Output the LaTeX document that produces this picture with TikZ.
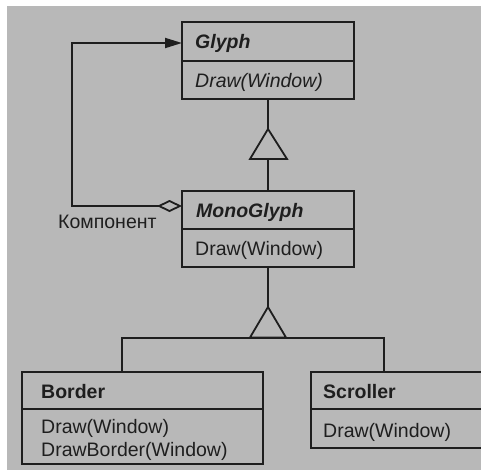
\documentclass[tikz,border=0pt]{standalone}
\usepackage{fontspec}
\setmainfont{Liberation Sans}
\usetikzlibrary{arrows.meta}
\definecolor{bg}{RGB}{184,184,184}
\definecolor{ink}{RGB}{30,30,30}
\begin{document}
\begin{tikzpicture}[x=1pt,y=-1pt,
  box/.style={draw=ink, line width=1.8pt, rectangle, inner sep=0pt},
  lbl/.style={anchor=base west, inner sep=0pt, text=ink, font=\fontsize{19.5}{22}\selectfont},
  ttl/.style={lbl, font=\fontsize{19.5}{22}\selectfont\bfseries},
  conn/.style={draw=ink, line width=1.8pt},
  tri/.style={draw=ink, line width=1.8pt, line join=miter}]
\useasboundingbox (0,0) rectangle (481,472);
\fill[white] (0,0) rectangle (481,472);
\fill[bg] (7,6) rectangle (481,470);
% boxes
\node[box, minimum width=172pt, minimum height=77pt] (glyph) at (268,60.5) {};
\node[box, minimum width=172pt, minimum height=76pt] (mono) at (268,229) {};
\node[box, minimum width=241pt, minimum height=92pt] (border) at (142.5,418) {};
\node[box, minimum width=174pt, minimum height=76pt] (scroller) at (398,410) {};
% dividers
\draw[conn] (182,61) -- (354,61);
\draw[conn] (182,229) -- (354,229);
\draw[conn] (22,409) -- (263,409);
\draw[conn] (311,409) -- (485,409);
% texts
\node[lbl, font=\fontsize{19.5}{22}\selectfont\bfseries\itshape] (tglyph) at (195,48.5) {Glyph};
\node[lbl, font=\fontsize{19.5}{22}\selectfont\itshape] (dglyph) at (195,87) {Draw(Window)};
\node[lbl, font=\fontsize{19.5}{22}\selectfont\bfseries\itshape] (tmono) at (196,217) {MonoGlyph};
\node[lbl] (dmono) at (195,255) {Draw(Window)};
\node[ttl] (tborder) at (41,398) {Border};
\node[lbl] (dborder1) at (41,433.5) {Draw(Window)};
\node[lbl] (dborder2) at (41,456) {DrawBorder(Window)};
\node[ttl] (tscroller) at (323,398) {Scroller};
\node[lbl] (dscroller) at (323,437) {Draw(Window)};
\node[lbl] (komp) at (58,228.5) {Компонент};
% inheritance Glyph <- MonoGlyph
\coordinate (apex1) at (268,129);
\coordinate (bl1) at (250,159);
\coordinate (br1) at (287,159);
\coordinate (bc1) at (268,159);
\draw[conn] (glyph.south) -- (apex1);
\draw[tri] (apex1) -- (bl1) -- (br1) -- cycle;
\draw[conn] (bc1) -- (mono.north);
% inheritance MonoGlyph <- Border, Scroller
\coordinate (apex2) at (268,307);
\coordinate (bl2) at (250,337.5);
\coordinate (br2) at (286,337.5);
\coordinate (bjl) at (122,338);
\coordinate (bjr) at (384,338);
\draw[conn] (mono.south) -- (apex2);
\draw[tri] (apex2) -- (bl2) -- (br2) -- cycle;
\draw[conn, line join=miter] (bjl |- border.north) -- (bjl) -- (bjr) -- (bjr |- scroller.north);
% aggregation
\coordinate (aggs) at (182,206);
\coordinate (aggc) at (72,206);
\coordinate (aggt) at (182,43);
\draw[conn, line join=miter, {Diamond[open, length=25pt, width=12pt, line width=1.8pt]}-{Triangle[length=17pt, width=10pt]}] (aggs) -- (aggc) |- (aggt);
\end{tikzpicture}
\end{document}
